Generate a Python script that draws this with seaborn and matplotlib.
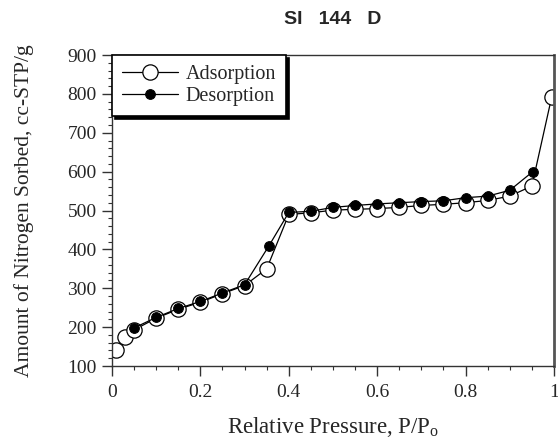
import seaborn as sns
import matplotlib.pyplot as plt
import pandas as pd
import numpy as np

ads_p = [0.008, 0.03, 0.05, 0.1, 0.15, 0.2, 0.25, 0.3, 0.35, 0.4, 0.45,
         0.5, 0.55, 0.6, 0.65, 0.7, 0.75, 0.8, 0.85, 0.9, 0.95, 0.995]
ads_v = [142, 175, 193, 223, 246, 264, 286, 307, 350, 490, 494,
         501, 503, 505, 508, 513, 516, 520, 526, 537, 563, 793]
des_p = [0.05, 0.1, 0.15, 0.2, 0.25, 0.3, 0.355, 0.4, 0.45, 0.5, 0.55,
         0.6, 0.65, 0.7, 0.75, 0.8, 0.85, 0.9, 0.952]
des_v = [198, 225, 248, 266, 288, 309, 409, 495, 498, 508, 513,
         517, 520, 523, 525, 533, 537, 552, 600]

sns.set_theme(style='ticks')
plt.rcParams['font.family'] = ['Liberation Serif', 'DejaVu Serif']

fig = plt.figure(figsize=(5.58, 4.43), dpi=100)
ax = fig.add_axes([0.2007, 0.1738, 0.7921, 0.702])

ads = pd.DataFrame({'p': ads_p, 'v': ads_v})
des = pd.DataFrame({'p': des_p, 'v': des_v})

sns.lineplot(data=ads, x='p', y='v', ax=ax, sort=False, estimator=None,
             color='black', lw=0.9, marker='o', markersize=11,
             markerfacecolor='white', markeredgecolor='black',
             markeredgewidth=0.9, label='Adsorption')
sns.lineplot(data=des, x='p', y='v', ax=ax, sort=False, estimator=None,
             color='black', lw=0.9, marker='o', markersize=7,
             markerfacecolor='black', markeredgecolor='black',
             label='Desorption')

ax.set_xlim(0, 1)
ax.set_ylim(100, 900)
ax.set_xticks([0, 0.2, 0.4, 0.6, 0.8, 1])
ax.set_xticklabels(['0', '0.2', '0.4', '0.6', '0.8', '1'])
ax.set_xticks(np.arange(0, 1.001, 0.05), minor=True)
ax.set_yticks(range(100, 901, 100))
ax.set_yticks(range(100, 901, 20), minor=True)
ax.tick_params(which='major', length=7, width=1, labelsize=14, color='#333')
ax.tick_params(which='minor', length=3, width=0.8, color='#333')
ax.tick_params(axis='x', which='major', pad=6)
ax.tick_params(axis='y', which='major', pad=4)

for s in ax.spines.values():
    s.set_visible(True)
    s.set_color('#333')
    s.set_linewidth(1)
ax.spines['right'].set_color('#555')
ax.spines['right'].set_linewidth(2)

ax.set_xlabel('Relative Pressure, P/P$_\\mathregular{o}$', fontsize=16.5, labelpad=10)
ax.set_ylabel('Amount of Nitrogen Sorbed, cc-STP/g', fontsize=15.5, labelpad=24)
ax.set_title('SI   144   D', fontsize=14, fontweight='bold',
             family=['Liberation Sans', 'DejaVu Sans'], pad=22)

leg = ax.legend(loc='upper left', bbox_to_anchor=(0, 1), borderaxespad=0,
                fontsize=14.5, handlelength=2.8, handletextpad=0.35,
                fancybox=False, framealpha=1, edgecolor='black',
                labelspacing=0.15, borderpad=0.5,
                shadow={'color': 'black', 'alpha': 1})
leg.get_frame().set_linewidth(1.2)

fig.savefig('out.png', dpi=100)
